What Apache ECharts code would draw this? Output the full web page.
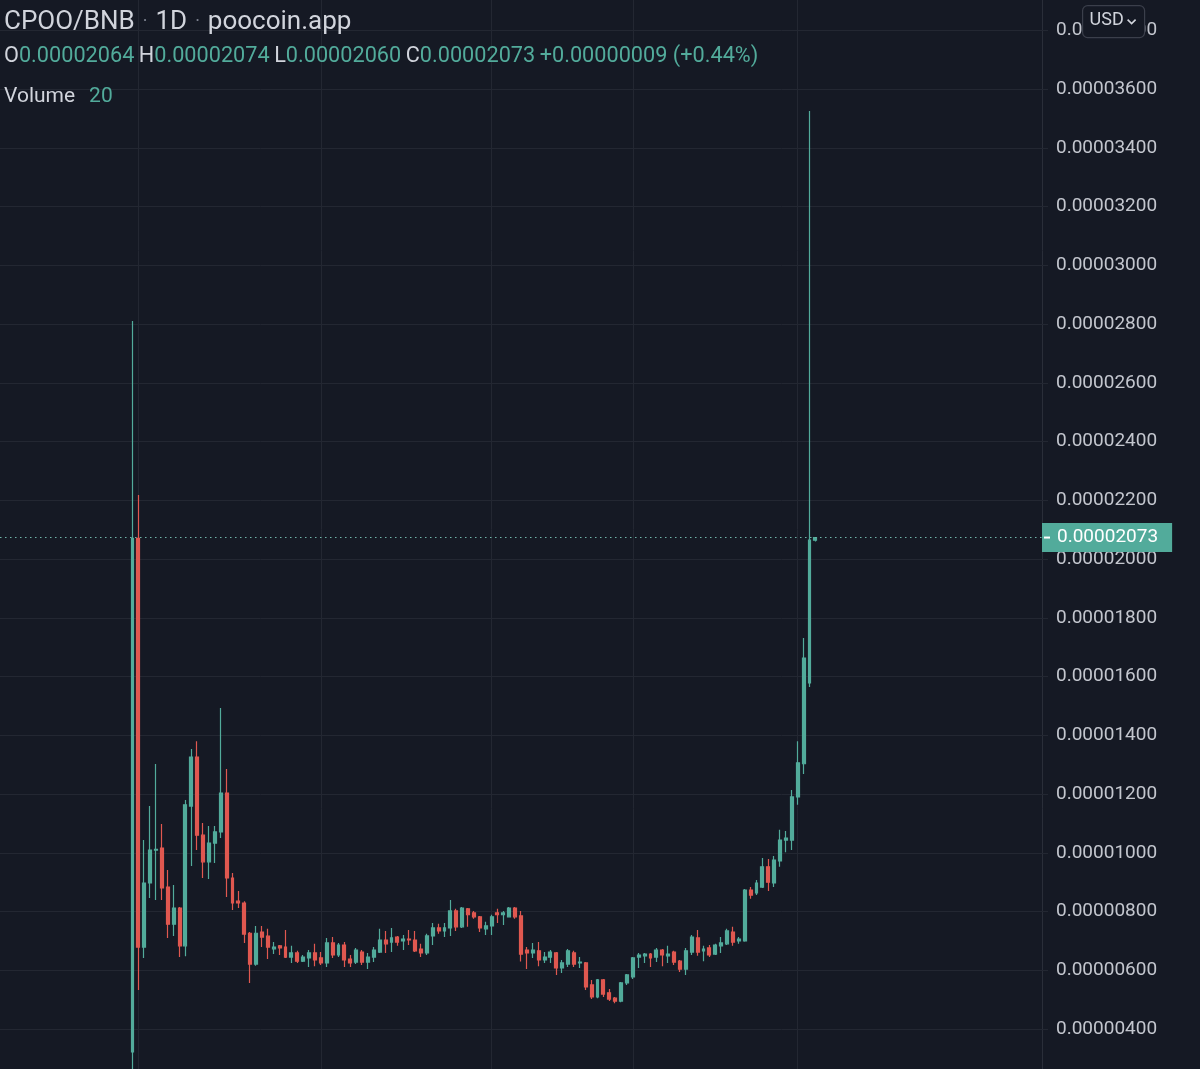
<!DOCTYPE html>
<html>
<head>
<meta charset="utf-8">
<script src="https://cdn.jsdelivr.net/npm/echarts@6/dist/echarts.min.js"></script>
<style>
html,body{margin:0;padding:0;background:#151924;overflow:hidden;width:1200px;height:1069px;position:relative;}
#chart{position:absolute;left:0;top:-29px;width:1200px;height:1117px;}
</style>
</head>
<body>
<div id="chart"></div>
<script>
// Prices in units of 1e-8 BNB (e.g. 2073 = 0.00002073)
const opens = [
  322,2070,679,897,1009,1016,883,757,812,683,
  1159,1326,1060,969,1033,1071,1203,914,835,829,
  726,621,730,716,673,683,679,645,659,631,
  642,659,642,625,693,652,686,638,628,662,
  628,645,662,703,696,713,700,706,703,672,
  659,717,744,734,744,802,748,809,795,782,
  741,751,795,789,782,812,785,669,659,666,
  635,645,659,608,621,659,625,625,550,509,
  567,523,505,495,557,577,645,649,655,645,
  669,649,662,631,604,662,710,666,676,655,
  683,690,730,700,700,873,863,883,952,897,
  972,1043,1043,1190,1303,1578,2064
];
const closes = [
  2070,679,897,1009,1012,880,757,812,683,1163,
  1326,1060,969,1033,1071,1203,914,829,829,723,
  621,726,713,679,679,676,645,659,631,645,
  659,635,625,693,652,686,635,625,669,628,
  645,669,703,690,710,696,706,703,666,659,
  717,744,734,744,802,748,812,789,782,744,
  751,782,789,795,812,782,655,659,669,635,
  645,662,608,625,666,621,628,543,509,567,
  519,502,495,557,584,642,652,655,642,669,
  652,655,628,604,666,713,662,672,652,686,
  693,734,696,706,873,856,897,952,900,975,
  1043,1050,1190,1306,1663,2064,2073
];
const lows = [
  240,533,642,846,839,839,710,717,645,648,
  955,1009,914,911,965,1050,849,805,812,693,
  557,615,679,638,655,652,642,625,625,628,
  611,614,618,611,642,645,611,611,621,618,
  604,628,659,659,662,683,669,686,662,645,
  652,686,724,713,717,734,744,748,775,730,
  720,720,761,754,782,775,630,604,642,614,
  625,625,584,591,611,611,608,533,502,505,
  509,495,488,491,550,570,608,625,611,628,
  614,625,618,594,584,652,649,631,645,652,
  659,686,683,690,697,843,856,880,870,883,
  952,1002,1009,1163,1268,1564,2060
];
const highs = [
  2810,2218,1043,1159,1302,1098,941,890,815,1180,
  1353,1380,1101,1091,1091,1493,1285,931,870,835,
  730,751,751,741,696,686,737,683,666,652,
  669,690,662,710,713,693,696,652,676,669,
  659,679,741,734,744,717,720,737,734,690,
  724,761,758,761,839,809,815,812,802,785,
  765,789,809,802,815,815,802,679,693,696,
  662,669,662,635,672,666,645,628,567,570,
  570,536,509,560,587,645,659,659,659,676,
  672,683,666,635,676,720,737,683,686,690,
  713,741,748,713,877,883,907,982,979,989,
  1078,1074,1214,1380,1731,3525,2074
];
const lastVolume = 20;
const pairName = 'CPOO/BNB';
const timeframe = '1D';
const sourceName = 'poocoin.app';
const quoteCurrency = 'USD';
// empty days visible before the first and after the last candle
const leadBlankDays = 22;
const trailBlankDays = 38;
// candle numbers (1-based) where the vertical grid lines fall
const gridLineCandles = [2, 33, 62, 86, 114];
// price axis (1e-8 units)
const yMin = 200, yMax = 4000, yStep = 200;

const UP = '#52ab9b', DOWN = '#e05850', TXT = '#d1d4dc', AX = '#c3c6ce', GRID = '#232732';
const FONT = 'Roboto';
const OFF = 29; // the chart canvas starts 29px above the window top
const fmt = v => (v / 1e8).toFixed(8);

const nCandles = opens.length;
const nSlots = leadBlankDays + nCandles + trailBlankDays;
const categories = [];
const ohlc = [];
for (let i = 0; i < nSlots; i++) {
  const k = i - leadBlankDays; // candle index
  categories.push(String(k + 1));
  if (k >= 0 && k < nCandles) ohlc.push([opens[k], closes[k], lows[k], highs[k]]);
  else ohlc.push('-');
}
const last = nCandles - 1;
const chg = closes[last] - opens[last];
const pct = chg / opens[last] * 100;
const sign = chg >= 0 ? '+' : '-';

const chart = echarts.init(document.getElementById('chart'), null, {renderer: 'canvas'});
chart.setOption({
  backgroundColor: '#151924',
  animation: false,
  textStyle: {fontFamily: FONT},
  title: [
    {
      left: 4, top: OFF + 9, padding: 0,
      text: `{a|${pairName}}{d|·}{a|${timeframe}}{d|·}{a|${sourceName}}`,
      textStyle: {
        fontWeight: 'normal',
        rich: {
          a: {fontSize: 26, color: TXT, fontFamily: FONT, fontWeight: 'normal'},
          d: {fontSize: 18, color: '#7d8290', fontFamily: FONT, fontWeight: 'normal', padding: [0, 8, 0, 8]}
        }
      }
    },
    {
      left: 4, top: OFF + 46, padding: 0,
      text: `{k|O}{v|${fmt(opens[last])}} {k|H}{v|${fmt(highs[last])}} {k|L}{v|${fmt(lows[last])}} {k|C}{v|${fmt(closes[last])}} {v|${sign}${fmt(Math.abs(chg))} (${sign}${Math.abs(pct).toFixed(2)}%)}`,
      textStyle: {
        fontWeight: 'normal',
        rich: {
          k: {fontSize: 21.7, color: TXT, fontFamily: FONT, fontWeight: 'normal'},
          v: {fontSize: 21.7, color: UP, fontFamily: FONT, fontWeight: 'normal'}
        }
      }
    },
    {
      left: 4, top: OFF + 86, padding: 0,
      text: `{k|Volume}{v|${lastVolume}}`,
      textStyle: {
        fontWeight: 'normal',
        rich: {
          k: {fontSize: 21, color: TXT, fontFamily: FONT, fontWeight: 'normal'},
          v: {fontSize: 21, color: UP, fontFamily: FONT, fontWeight: 'normal', padding: [0, 0, 0, 14]}
        }
      }
    }
  ],
  grid: {left: 0, right: 158, top: 0.5, bottom: 0.25, containLabel: false, outerBoundsMode: 'none'},
  xAxis: {
    type: 'category',
    data: categories,
    boundaryGap: true,
    axisLine: {show: false},
    axisTick: {show: false},
    axisLabel: {show: false},
    splitLine: {show: false}
  },
  yAxis: {
    type: 'value',
    position: 'right',
    min: yMin, max: yMax, interval: yStep,
    axisLine: {show: true, lineStyle: {color: '#2a2e39', width: 1}},
    axisTick: {show: true, length: 6, lineStyle: {color: GRID}},
    axisLabel: {
      margin: 14, color: AX, fontSize: 19, fontFamily: FONT,
      formatter: v => fmt(v)
    },
    splitLine: {show: true, lineStyle: {color: GRID, width: 1}}
  },
  series: [
    {
      type: 'line',
      data: ohlc.map(() => '-'),
      silent: true,
      symbol: 'none',
      z: 1,
      markLine: {
        silent: true,
        symbol: ['none', 'none'],
        z: 1,
        label: {show: false},
        lineStyle: {color: GRID, type: 'solid', width: 1},
        data: gridLineCandles.map(c => ({xAxis: String(c)}))
      }
    },
    {
      type: 'candlestick',
      data: ohlc,
      z: 2,
      barWidth: '58%',
      itemStyle: {
        color: UP, color0: DOWN,
        borderColor: UP, borderColor0: DOWN, borderColorDoji: UP,
        borderWidth: 1.2
      },
      markLine: {
        silent: true,
        symbol: ['none', 'none'],
        z: 6,
        lineStyle: {color: '#6fb5a8', type: [1.5, 3.5], width: 1.2},
        label: {
          show: true,
          position: 'end',
          distance: 0,
          backgroundColor: UP,
          padding: [5, 14, 5, 2],
          formatter: p => `{t| }{v|${fmt(p.value)}}`,
          rich: {
            t: {width: 6, height: 2, backgroundColor: '#ffffff', fontSize: 2, lineHeight: 2},
            v: {color: '#ffffff', fontSize: 19, fontFamily: FONT, padding: [0, 0, 0, 7], lineHeight: 19}
          }
        },
        data: [{yAxis: closes[last]}]
      }
    }
  ],
  graphic: [
    {
      type: 'group', left: 1082, top: OFF + 5, zlevel: 1, z: 100,
      children: [
        {type: 'rect', zlevel: 1, z: 100, shape: {x: 0, y: 0, width: 62, height: 32, r: 5},
         style: {fill: '#151924', stroke: '#3b3f4b', lineWidth: 1.2}},
        {type: 'text', zlevel: 1, z: 101, left: 7, top: 6,
         style: {text: quoteCurrency, fill: TXT, font: '18px Roboto'}},
        {type: 'polyline', zlevel: 1, z: 101, shape: {points: [[45, 14], [49, 18], [53, 14]]},
         style: {stroke: TXT, lineWidth: 1.6, fill: null}}
      ]
    }
  ]
});
</script>
</body>
</html>
